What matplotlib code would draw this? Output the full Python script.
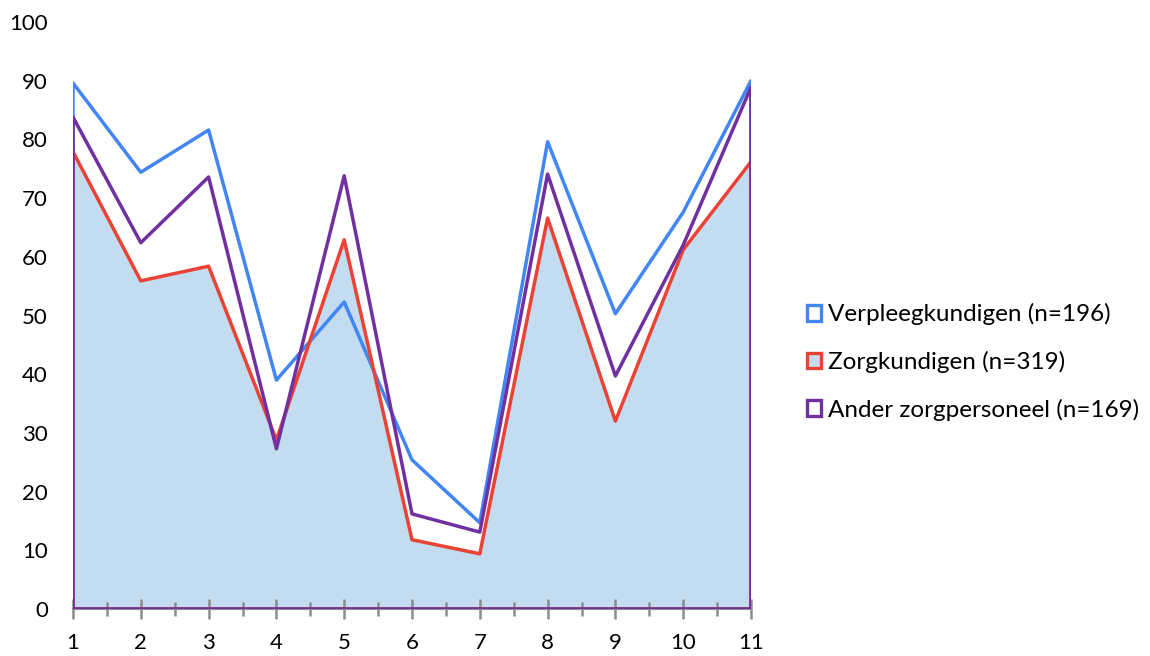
import numpy as np
import matplotlib.pyplot as plt
from matplotlib.patches import Patch
from matplotlib.ticker import MultipleLocator

plt.rcParams['font.family'] = ['Lato', 'DejaVu Sans']

categories = list(range(1, 12))
verpleeg = [89.6, 74.4, 81.6, 39.0, 52.3, 25.4, 14.7, 79.6, 50.3, 67.6, 90.0]
zorg = [77.9, 55.9, 58.4, 28.8, 62.9, 11.8, 9.4, 66.6, 32.0, 61.2, 76.2]
ander = [83.8, 62.4, 73.6, 27.3, 73.8, 16.2, 13.1, 74.1, 39.7, 62.0, 88.9]

labels = ['Verpleegkundigen (n=196)', 'Zorgkundigen (n=319)', 'Ander zorgpersoneel (n=169)']
blue = '#4285f4'
red = '#ea4335'
purple = '#7030a0'
fill = '#c3dcf0'

fig = plt.figure(figsize=(11.5, 6.56), dpi=100)
ax = fig.add_axes([73 / 1150, 1 - 609 / 656, (751 - 73) / 1150, (609 - 22) / 656])

x = np.array(categories)
ax.fill_between(x, 0, zorg, facecolor=fill, edgecolor='none', zorder=1)
ax.fill_between(x, 0, verpleeg, facecolor='none', edgecolor=blue, linewidth=2.5, zorder=2)
ax.fill_between(x, 0, zorg, facecolor='none', edgecolor=red, linewidth=2.5, zorder=3)
ax.fill_between(x, 0, ander, facecolor='none', edgecolor=purple, linewidth=2.5, zorder=4)

ax.set_xlim(1, 11)
ax.set_ylim(0, 100)
ax.set_yticks(range(0, 101, 10))
ax.set_xticks(categories)
ax.xaxis.set_minor_locator(MultipleLocator(0.5))
for s in ['top', 'right', 'left']:
    ax.spines[s].set_visible(False)
ax.spines['bottom'].set_color('#8c8c8c')
ax.spines['bottom'].set_linewidth(1.5)
ax.tick_params(axis='y', length=0, pad=18, labelsize=16)
ax.tick_params(axis='x', which='major', direction='inout', length=14, width=1.8,
               color='#8c8c8c', pad=10, labelsize=16)
ax.tick_params(axis='x', which='minor', direction='inout', length=10, width=1.8,
               color='#8c8c8c')
for t in ax.get_xticklabels() + ax.get_yticklabels():
    t.set_clip_on(False)

handles = [Patch(facecolor='white', edgecolor=blue, linewidth=2.4),
           Patch(facecolor=fill, edgecolor=red, linewidth=2.4),
           Patch(facecolor='white', edgecolor=purple, linewidth=2.4)]
fig.legend(handles, labels, loc='center left', bbox_to_anchor=(785 / 1150, 1 - 362 / 656),
           frameon=False, fontsize=17.5, handlelength=0.6, handleheight=0.6,
           handletextpad=0.25, labelspacing=1.05)

fig.savefig('out.png', dpi=100)
